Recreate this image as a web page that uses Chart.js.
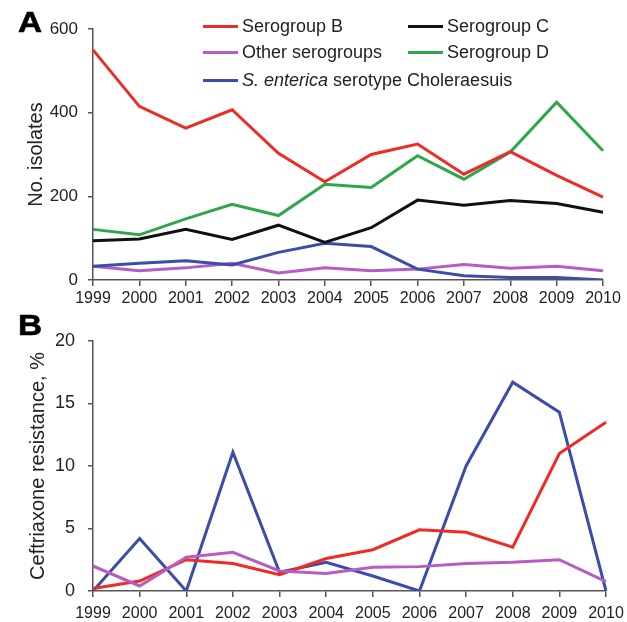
<!DOCTYPE html>
<html>
<head>
<meta charset="utf-8">
<script src="https://cdn.jsdelivr.net/npm/chart.js@4"></script>
<style>
body { margin: 0; background: #fff; font-family: "Liberation Sans", Arial, sans-serif; }
#wrap { position: relative; width: 627px; height: 622px; overflow: hidden; }
canvas { position: absolute; left: 0; }
.panel { position: absolute; left: 18px; font-weight: bold; font-size: 29px; line-height: 29px; color: #000; transform: scaleX(1.15); transform-origin: left top; -webkit-text-stroke: 0.6px #000; }
.leg { position: absolute; font-size: 18px; line-height: 20px; color: #222; white-space: nowrap; }
.leg .sw { position: absolute; left: 0; top: 8.5px; width: 35px; height: 3px; }
.leg .tx { position: absolute; left: 39px; top: 0; }
</style>
</head>
<body>
<div id="wrap">
  <canvas id="chartA" width="627" height="312" style="top:0"></canvas>
  <canvas id="chartB" width="627" height="310" style="top:312px"></canvas>
  <div class="panel" style="top:8px">A</div>
  <div class="panel" style="top:311px">B</div>
</div>
<script>
var years = ['1999', '2000', '2001', '2002', '2003', '2004', '2005', '2006', '2007', '2008', '2009', '2010'];

// panel A: number of isolates
var countB = [550, 415, 363, 407, 303, 235, 300, 325, 253, 307, 250, 198];
var countC = [94, 98, 121, 97, 131, 90, 125, 191, 179, 190, 183, 162];
var countOther = [33, 22, 29, 40, 17, 29, 22, 26, 37, 28, 33, 22];
var countD = [121, 108, 146, 181, 154, 229, 221, 297, 241, 306, 425, 309];
var countChol = [33, 40, 46, 36, 66, 88, 80, 26, 10, 6, 6, 0];

// panel B: ceftriaxone resistance, %
var resB = [0.2, 0.8, 2.5, 2.2, 1.3, 2.6, 3.3, 4.9, 4.7, 3.5, 11.0, 13.5];
var resChol = [0, 4.2, 0, 11.1, 1.5, 2.3, 1.2, 0, 10.0, 16.7, 14.3, 0];
var resOther = [2.0, 0.4, 2.7, 3.1, 1.6, 1.4, 1.9, 1.95, 2.2, 2.3, 2.5, 0.75];

var yTicksA = [0, 200, 400, 600];
var yTicksB = [0, 5, 10, 15, 20];

var red = '#ef2b26', black = '#111111', purple = '#b65cc2', green = '#2fa64c', blue = '#3a4da8';

var legendItems = [
  { html: 'Serogroup B', color: red, x: 203, y: 16 },
  { html: 'Serogroup C', color: black, x: 408, y: 16 },
  { html: 'Other serogroups', color: purple, x: 203, y: 42 },
  { html: 'Serogroup D', color: green, x: 408, y: 42 },
  { html: '<i>S. enterica</i> serotype Choleraesuis', color: blue, x: 203, y: 70 }
];

Chart.defaults.font.family = '"Liberation Sans", Arial, sans-serif';
Chart.defaults.color = '#222';

function line(label, data, color) {
  return {
    label: label,
    data: data,
    borderColor: color,
    backgroundColor: color,
    borderWidth: 3,
    pointRadius: 0,
    tension: 0,
    fill: false
  };
}

function makeOptions(ticks, title, tickSize, tickPad, titlePad, rightPad, xHeight, xPad) {
  return {
    responsive: false,
    animation: false,
    devicePixelRatio: 1,
    layout: { padding: { top: 29, right: rightPad, left: 0, bottom: 0 } },
    plugins: { legend: { display: false }, tooltip: { enabled: false } },
    scales: {
      x: {
        grid: { drawOnChartArea: false, tickLength: 6, color: '#555', lineWidth: 1.5 },
        border: { color: '#555', width: 1.5 },
        ticks: { font: { size: 16 }, color: '#222', padding: xPad, maxRotation: 0, autoSkip: false },
        afterFit: function (s) { s.height = xHeight; s.paddingLeft = 0; s.paddingRight = 0; }
      },
      y: {
        min: ticks[0],
        max: ticks[ticks.length - 1],
        afterBuildTicks: function (s) { s.ticks = ticks.map(function (v) { return { value: v }; }); },
        grid: { drawOnChartArea: false, tickLength: 5, color: '#555', lineWidth: 1.5 },
        border: { color: '#555', width: 1.5 },
        ticks: { font: { size: tickSize }, color: '#222', padding: tickPad },
        title: { display: true, text: title, font: { size: 20 }, color: '#222', padding: { top: titlePad, bottom: 0 } },
        afterFit: function (s) { s.width = 93; s.paddingTop = 0; s.paddingBottom = 0; }
      }
    }
  };
}

new Chart(document.getElementById('chartA'), {
  type: 'line',
  data: {
    labels: years,
    datasets: [
      line('Serogroup B', countB, red),
      line('Serogroup D', countD, green),
      line('Serogroup C', countC, black),
      line('S. enterica serotype Choleraesuis', countChol, blue),
      line('Other serogroups', countOther, purple)
    ]
  },
  options: makeOptions(yTicksA, 'No. isolates', 17, 10, 24, 24, 32, 3)
});

new Chart(document.getElementById('chartB'), {
  type: 'line',
  data: {
    labels: years,
    datasets: [
      line('Other serogroups', resOther, purple),
      line('Serogroup B', resB, red),
      line('S. enterica serotype Choleraesuis', resChol, blue)
    ]
  },
  options: makeOptions(yTicksB, 'Ceftriaxone resistance, %', 18, 13, 26, 21, 31, 7)
});

var wrap = document.getElementById('wrap');
legendItems.forEach(function (it) {
  var d = document.createElement('div');
  d.className = 'leg';
  d.style.left = it.x + 'px';
  d.style.top = it.y + 'px';
  d.innerHTML = '<span class="sw" style="background:' + it.color + '"></span><span class="tx">' + it.html + '</span>';
  wrap.appendChild(d);
});
</script>
</body>
</html>
